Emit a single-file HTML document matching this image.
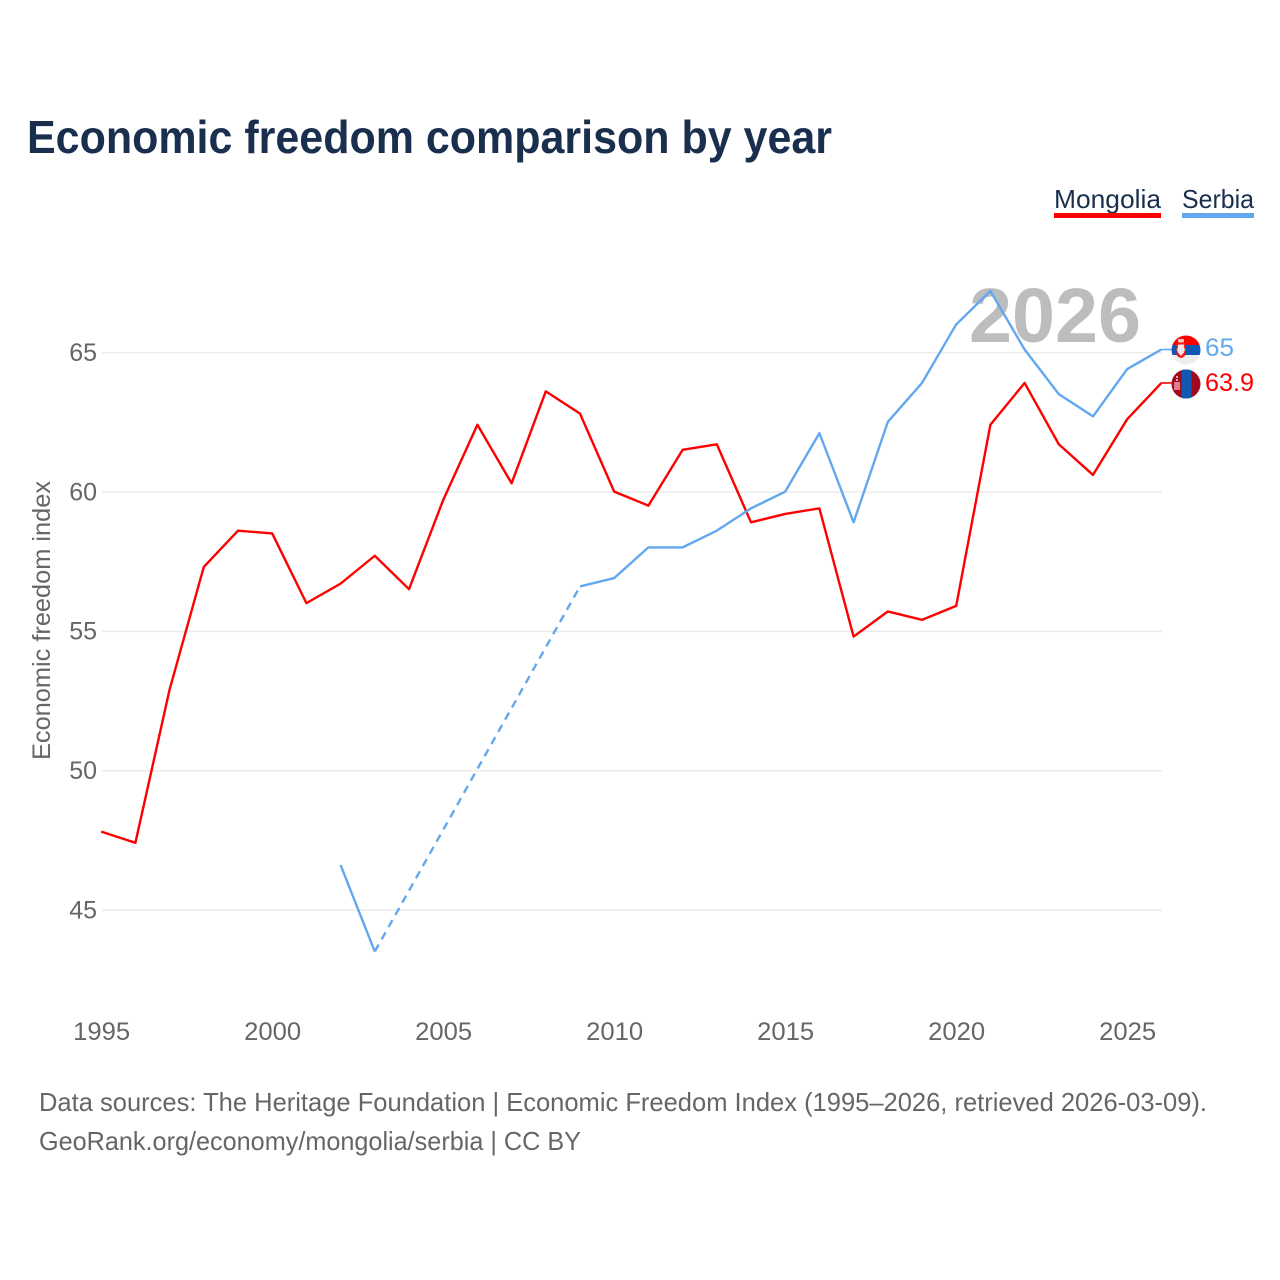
<!DOCTYPE html>
<html lang="en">
<head>
<meta charset="utf-8">
<title>Economic freedom comparison by year</title>
<style>
html,body{margin:0;padding:0;background:#fff;width:1280px;height:1280px;overflow:hidden}
svg{display:block;font-family:"Liberation Sans",sans-serif}
</style>
</head>
<body>
<svg id="chart" width="1280" height="1280" viewBox="0 0 1280 1280" xmlns="http://www.w3.org/2000/svg">
  <text x="27" y="153" font-size="46" font-weight="700" fill="#1a2f4e" textLength="805" lengthAdjust="spacingAndGlyphs">Economic freedom comparison by year</text>

  <g>
    <g>
      <text x="1054" y="208" font-size="26" fill="#1a2f4e" textLength="107" lengthAdjust="spacingAndGlyphs">Mongolia</text>
      <rect x="1054" y="213" width="107" height="5" fill="#ff0000"/>
    </g>
    <g>
      <text x="1182" y="208" font-size="26" fill="#1a2f4e" textLength="72" lengthAdjust="spacingAndGlyphs">Serbia</text>
      <rect x="1182" y="213" width="72" height="5" fill="#63a8ee"/>
    </g>
  </g>

  <g id="grid"></g>
  <text x="969" y="342" font-size="77" font-weight="700" fill="#bcbdbf" textLength="172" lengthAdjust="spacingAndGlyphs">2026</text>
  <g id="yticks"></g>
  <g id="xticks"></g>
  <text transform="translate(50,760) rotate(-90)" font-size="25" fill="#666666" textLength="279" lengthAdjust="spacingAndGlyphs">Economic freedom index</text>

  <g id="series"></g>

  <defs>
    <clipPath id="flag-clip-serbia"><circle cx="1186" cy="350" r="14.5"/></clipPath>
    <clipPath id="flag-clip-mongolia"><circle cx="1186" cy="384" r="14.5"/></clipPath>
  </defs>
  <g clip-path="url(#flag-clip-serbia)">
    <rect x="1171" y="335" width="30" height="10" fill="#ff0000"/>
    <rect x="1171" y="345" width="30" height="10" fill="#0f58b4"/>
    <rect x="1171" y="355" width="30" height="10" fill="#eeeeee"/>
    <path d="M1176.5 343h9v10q0 4-4.5 5q-4.500-1-4.500-5z" fill="#f01818"/>
    <path d="M1178 344.500h6v3l1 2-1 3-3 3.500-3-3.500-1-3 1-2z" fill="#f6e4e4"/>
    <rect x="1178" y="339" width="6" height="3.500" rx="1" fill="#f8c4c4"/>
  </g>
  <g clip-path="url(#flag-clip-mongolia)">
    <rect x="1171" y="369" width="30" height="30" fill="#a1081f"/>
    <rect x="1181.500" y="369" width="10" height="30" fill="#0f58b4"/>
    <rect x="1174" y="382" width="6" height="8" fill="#d9808a"/>
    <rect x="1176" y="376" width="2" height="2" fill="#e9a5a5"/>
    <rect x="1176" y="379" width="2" height="2" fill="#e9a5a5"/>
  </g>
  <text x="1205" y="356" font-size="25" fill="#63a8ee" textLength="29" lengthAdjust="spacingAndGlyphs">65</text>
  <text x="1205" y="391" font-size="25" fill="#ff0000" textLength="49" lengthAdjust="spacingAndGlyphs">63.9</text>

  <g>
    <text x="39" y="1111" font-size="26" fill="#666666" textLength="1168" lengthAdjust="spacingAndGlyphs">Data sources: The Heritage Foundation | Economic Freedom Index (1995–2026, retrieved 2026-03-09).</text>
    <text x="39" y="1150" font-size="26" fill="#666666" textLength="542" lengthAdjust="spacingAndGlyphs">GeoRank.org/economy/mongolia/serbia | CC BY</text>
  </g>
</svg>
<script>
const years = [1995,1996,1997,1998,1999,2000,2001,2002,2003,2004,2005,2006,2007,2008,2009,2010,2011,2012,2013,2014,2015,2016,2017,2018,2019,2020,2021,2022,2023,2024,2025,2026];
const mongolia = [47.8,47.4,52.9,57.3,58.6,58.5,56.0,56.7,57.7,56.5,59.7,62.4,60.3,63.6,62.8,60.0,59.5,61.5,61.7,58.9,59.2,59.4,54.8,55.7,55.4,55.9,62.4,63.9,61.7,60.6,62.6,63.9];
const serbia = [null,null,null,null,null,null,null,46.6,43.5,null,null,null,null,null,56.6,56.9,58.0,58.0,58.6,59.4,60.0,62.1,58.9,62.5,63.9,66.0,67.2,65.1,63.5,62.7,64.4,65.1];
const yTickValues = [45,50,55,60,65];
const xTickValues = [1995,2000,2005,2010,2015,2020,2025];

const NS = 'http://www.w3.org/2000/svg';
const xScale = y => 101.2 + (y - 1995) * 34.2;
const yScale = v => 352.3 + (65 - v) * 27.87;

function make(tag, attrs, parent) {
  const el = document.createElementNS(NS, tag);
  for (const k in attrs) el.setAttribute(k, attrs[k]);
  parent.appendChild(el);
  return el;
}

const grid = document.getElementById('grid');
const yG = document.getElementById('yticks');
const xG = document.getElementById('xticks');
const seriesG = document.getElementById('series');

yTickValues.forEach(v => {
  const line = make('line', {x1: 102, x2: 1162, y1: yScale(v) + 0.4, y2: yScale(v) + 0.4, stroke: '#ebebeb', 'stroke-width': 1.5}, grid);
  
  
  const t = make('text', {x: 97, y: yScale(v) + 8.7, 'text-anchor': 'end', 'font-size': 25, fill: '#666666'}, yG);
  
  
  t.textContent = v;
});

xTickValues.forEach(y => {
  const t = make('text', {x: xScale(y) + 0.5, y: 1040, 'text-anchor': 'middle', 'font-size': 25, fill: '#666666', textLength: 57, lengthAdjust: 'spacingAndGlyphs'}, xG);
  
  
  t.textContent = y;
});

function drawSeries(name, values, color) {
  const pts = [];
  values.forEach((v, i) => { if (v !== null) pts.push([years[i], v]); });
  let run = [pts[0]];
  const flush = () => {
    if (run.length > 1) {
      const p = make('polyline', {points: run.map(q => xScale(q[0]) + ',' + yScale(q[1])).join(' '), fill: 'none', stroke: color, 'stroke-width': 2.4, 'stroke-linejoin': 'round'}, seriesG);
      
      
    }
  };
  for (let i = 1; i < pts.length; i++) {
    if (pts[i][0] - pts[i - 1][0] > 1) {
      flush();
      const d = make('line', {x1: xScale(pts[i - 1][0]), y1: yScale(pts[i - 1][1]), x2: xScale(pts[i][0]), y2: yScale(pts[i][1]), stroke: color, 'stroke-width': 2.4, 'stroke-dasharray': '8 6'}, seriesG);
      
      
      run = [pts[i]];
    } else {
      run.push(pts[i]);
    }
  }
  flush();
  const last = pts[pts.length - 1];
  const c = make('line', {x1: xScale(last[0]), y1: yScale(last[1]), x2: xScale(last[0]) + 10, y2: yScale(last[1]), stroke: color, 'stroke-width': 1.6}, seriesG);
  
  
}

drawSeries('mongolia', mongolia, '#ff0000');
drawSeries('serbia', serbia, '#63a8ee');
</script>
</body>
</html>
